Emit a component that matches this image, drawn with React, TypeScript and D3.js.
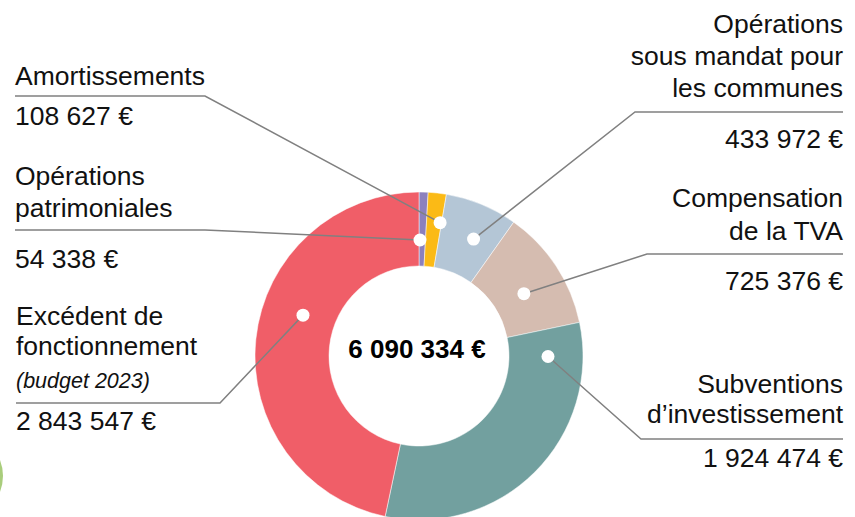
import React from "react";
import * as d3 from "d3";

// slices, clockwise from 12 o'clock
const categories = [
  "Opérations patrimoniales",
  "Amortissements",
  "Opérations sous mandat pour les communes",
  "Compensation de la TVA",
  "Subventions d’investissement",
  "Excédent de fonctionnement",
];
const values = [54338, 108627, 433972, 725376, 1924474, 2843547];
const valueLabels = ["54 338 €", "108 627 €", "433 972 €", "725 376 €", "1 924 474 €", "2 843 547 €"];
const titleLines = [
  ["Opérations", "patrimoniales"],
  ["Amortissements"],
  ["Opérations", "sous mandat pour", "les communes"],
  ["Compensation", "de la TVA"],
  ["Subventions", "d’investissement"],
  ["Excédent de", "fonctionnement"],
];
const noteLines = ["", "", "", "", "", "(budget 2023)"];
const colors = ["#8c80bd", "#fbba16", "#b4c6d6", "#d5bcb0", "#72a09f", "#f05e68"];
const totalLabel = "6 090 334 €";

// callout layout: text baselines, rule line, and where the dot sits inside the slice
const callouts = [
  { side: "left", lines: [185, 217], note: 0, rule: 230, x1: 15, x2: 205, value: 268, t: 0.15, r: 116 },
  { side: "left", lines: [85], note: 0, rule: 96, x1: 15, x2: 205, value: 125, t: 0.9, r: 135 },
  { side: "right", lines: [33, 65, 97], note: 0, rule: 112, x1: 843, x2: 635, value: 148, t: 0.6, r: 129 },
  { side: "right", lines: [207, 240], note: 0, rule: 254, x1: 843, x2: 647, value: 290, t: 0.56, r: 122 },
  { side: "right", lines: [393, 423], note: 0, rule: 439, x1: 843, x2: 641, value: 467, t: 0.106, r: 129 },
  { side: "left", lines: [325, 355], note: 388, rule: 403, x1: 16, x2: 220, value: 430, t: 0.58, r: 123 },
];

const W = 855;
const H = 517;
const cx = 419;
const cy = 356;
const outerR = 164;
const innerR = 90;
const font = "'Liberation Sans', Arial, sans-serif";

export default function App() {
  const pie = d3.pie<number>().sort(null).value((d) => d);
  const arcs = pie(values);
  const arc = d3.arc<d3.PieArcDatum<number>>().innerRadius(innerR).outerRadius(outerR);

  return (
    <svg
      width={W}
      height={H}
      style={{ position: "absolute", left: 0, top: 0, background: "#fff" }}
      fontFamily={font}
    >
      {/* green decoration at the left edge */}
      <circle cx={-41} cy={476} r={44} fill="#a9cd7c" />

      <g transform={`translate(${cx},${cy})`}>
        {arcs.map((a, i) => (
          <path key={categories[i]} d={arc(a) || ""} fill={colors[i]} stroke="#fff" strokeWidth={0.5} />
        ))}
      </g>

      {arcs.map((a, i) => {
        const c = callouts[i];
        const ang = a.startAngle + c.t * (a.endAngle - a.startAngle);
        const dx = cx + c.r * Math.sin(ang);
        const dy = cy - c.r * Math.cos(ang);
        const anchor = c.side === "left" ? "start" : "end";
        return (
          <g key={"c" + i}>
            <polyline
              points={`${c.x1},${c.rule} ${c.x2},${c.rule} ${dx},${dy}`}
              fill="none"
              stroke="#808080"
              strokeWidth={1.5}
            />
            <circle cx={dx} cy={dy} r={6.5} fill="#fff" />
            {titleLines[i].map((ln, j) => (
              <text key={j} x={c.x1} y={c.lines[j]} textAnchor={anchor} fontSize={26.5} fill="#111">
                {ln}
              </text>
            ))}
            {noteLines[i] && (
              <text x={c.x1} y={c.note} textAnchor={anchor} fontSize={21.5} fontStyle="italic" fill="#111">
                {noteLines[i]}
              </text>
            )}
            <text x={c.x1} y={c.value} textAnchor={anchor} fontSize={26.5} fill="#111">
              {valueLabels[i]}
            </text>
          </g>
        );
      })}

      <text x={cx - 2} y={358} textAnchor="middle" fontSize={26} fontWeight="bold" fill="#000">
        {totalLabel}
      </text>
    </svg>
  );
}
